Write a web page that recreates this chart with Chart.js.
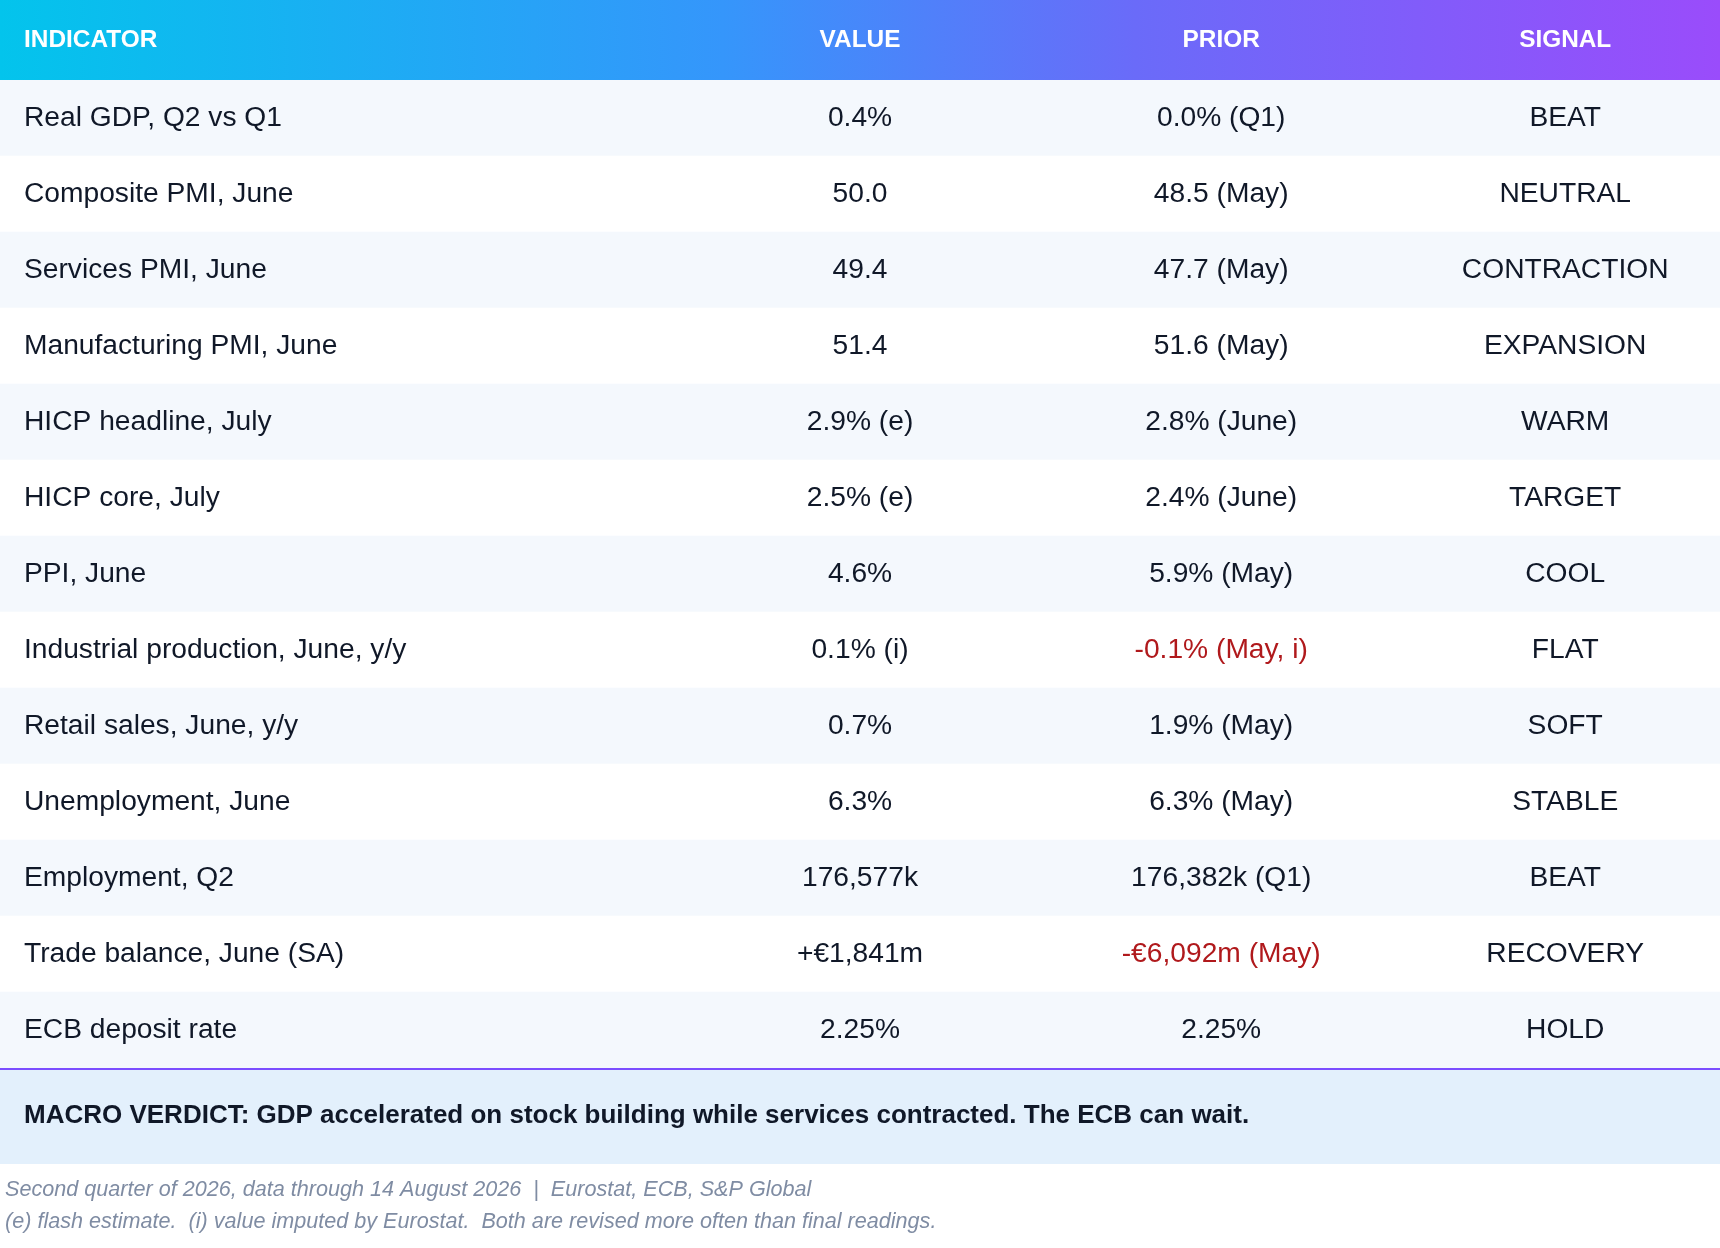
<!DOCTYPE html>
<html>
<head>
<meta charset="utf-8">
<script src="https://cdn.jsdelivr.net/npm/chart.js@4.4.1/dist/chart.umd.min.js"></script>
<style>
  html, body { margin: 0; padding: 0; background: #ffffff; }
  #wrap { position: relative; width: 1720px; height: 1248px; }
</style>
</head>
<body>
<div id="wrap"><canvas id="c"></canvas></div>
<script>
// ---- data ----
const headers = ['INDICATOR', 'VALUE', 'PRIOR', 'SIGNAL'];
const indicators = [
  'Real GDP, Q2 vs Q1',
  'Composite PMI, June',
  'Services PMI, June',
  'Manufacturing PMI, June',
  'HICP headline, July',
  'HICP core, July',
  'PPI, June',
  'Industrial production, June, y/y',
  'Retail sales, June, y/y',
  'Unemployment, June',
  'Employment, Q2',
  'Trade balance, June (SA)',
  'ECB deposit rate'
];
const values = ['0.4%', '50.0', '49.4', '51.4', '2.9% (e)', '2.5% (e)', '4.6%', '0.1% (i)', '0.7%', '6.3%', '176,577k', '+€1,841m', '2.25%'];
const priors = ['0.0% (Q1)', '48.5 (May)', '47.7 (May)', '51.6 (May)', '2.8% (June)', '2.4% (June)', '5.9% (May)', '-0.1% (May, i)', '1.9% (May)', '6.3% (May)', '176,382k (Q1)', '-€6,092m (May)', '2.25%'];
const signals = ['BEAT', 'NEUTRAL', 'CONTRACTION', 'EXPANSION', 'WARM', 'TARGET', 'COOL', 'FLAT', 'SOFT', 'STABLE', 'BEAT', 'RECOVERY', 'HOLD'];
const verdict = 'MACRO VERDICT: GDP accelerated on stock building while services contracted. The ECB can wait.';
const footnotes = [
  'Second quarter of 2026, data through 14 August 2026  |  Eurostat, ECB, S&P Global',
  '(e) flash estimate.  (i) value imputed by Eurostat.  Both are revised more often than final readings.'
];

// ---- layout / style ----
const colEdges = [0, 40, 60, 82, 100]; // percent of width on the x scale
const FONT = '"Liberation Sans", Arial, Helvetica, sans-serif';
const TEXT = '#101828';
const NEG = '#b0191c';
const HEADER_H = 80;
const BOTTOM_PAD = 180;

const tablePlugin = {
  id: 'tablePlugin',
  afterDatasetsDraw(chart) {
    const { ctx, chartArea, scales } = chart;
    const xs = scales.x, ys = scales.y;
    const W = chart.width;
    const colX = i => xs.getPixelForValue(colEdges[i]);
    const colC = i => (colX(i) + colX(i + 1)) / 2;
    const leftPad = 24;

    ctx.save();
    // header band
    const g = ctx.createLinearGradient(0, 0, W, 0);
    g.addColorStop(0, '#03c4ec');
    g.addColorStop(0.42, '#3596fb');
    g.addColorStop(0.66, '#6a6bf9');
    g.addColorStop(1, '#9a4cfb');
    ctx.fillStyle = g;
    ctx.fillRect(0, 0, W, chartArea.top);

    ctx.fillStyle = '#ffffff';
    ctx.font = 'bold 24.4px ' + FONT;
    ctx.textBaseline = 'alphabetic';
    const hy = chartArea.top / 2 + 7;
    headers.forEach((h, i) => {
      if (i === 0) { ctx.textAlign = 'left'; ctx.fillText(h, colX(0) + leftPad, hy); }
      else { ctx.textAlign = 'center'; ctx.fillText(h, colC(i), hy); }
    });

    // body cells
    ctx.font = '28.2px ' + FONT;
    indicators.forEach((name, r) => {
      const y = ys.getPixelForValue(r) + 8;
      ctx.fillStyle = TEXT;
      ctx.textAlign = 'left';
      ctx.fillText(name, colX(0) + leftPad, y);
      ctx.textAlign = 'center';
      ctx.fillStyle = values[r].startsWith('-') ? NEG : TEXT;
      ctx.fillText(values[r], colC(1), y);
      ctx.fillStyle = priors[r].startsWith('-') ? NEG : TEXT;
      ctx.fillText(priors[r], colC(2), y);
      ctx.fillStyle = TEXT;
      ctx.fillText(signals[r], colC(3), y);
    });

    // divider line + verdict box
    const bot = chartArea.bottom;
    ctx.fillStyle = '#e3f0fc';
    ctx.fillRect(0, bot, W, 96);
    ctx.strokeStyle = '#7b4dff';
    ctx.lineWidth = 2;
    ctx.beginPath();
    ctx.moveTo(0, bot + 1);
    ctx.lineTo(W, bot + 1);
    ctx.stroke();

    ctx.fillStyle = TEXT;
    ctx.font = 'bold 26px ' + FONT;
    ctx.textAlign = 'left';
    ctx.fillText(verdict, colX(0) + leftPad, bot + 55);

    // footnotes
    ctx.fillStyle = '#7f8ca3';
    ctx.font = 'italic 21.6px ' + FONT;
    ctx.fillText(footnotes[0], 5, bot + 128);
    ctx.fillText(footnotes[1], 5, bot + 160);
    ctx.restore();
  }
};

new Chart(document.getElementById('c'), {
  type: 'bar',
  data: {
    labels: indicators,
    datasets: [{
      data: indicators.map(() => [colEdges[0], colEdges[colEdges.length - 1]]),
      backgroundColor: indicators.map((_, i) => i % 2 === 0 ? '#f4f8fd' : '#ffffff'),
      borderWidth: 0,
      barPercentage: 1,
      categoryPercentage: 1
    }]
  },
  options: {
    indexAxis: 'y',
    responsive: true,
    maintainAspectRatio: false,
    devicePixelRatio: 1,
    animation: false,
    events: [],
    layout: { padding: { top: HEADER_H, bottom: BOTTOM_PAD, left: 0, right: 0 } },
    plugins: { legend: { display: false }, tooltip: { enabled: false } },
    scales: {
      x: { type: 'linear', min: colEdges[0], max: colEdges[colEdges.length - 1], display: false },
      y: { type: 'category', display: false, offset: true }
    }
  },
  plugins: [tablePlugin]
});
</script>
</body>
</html>
